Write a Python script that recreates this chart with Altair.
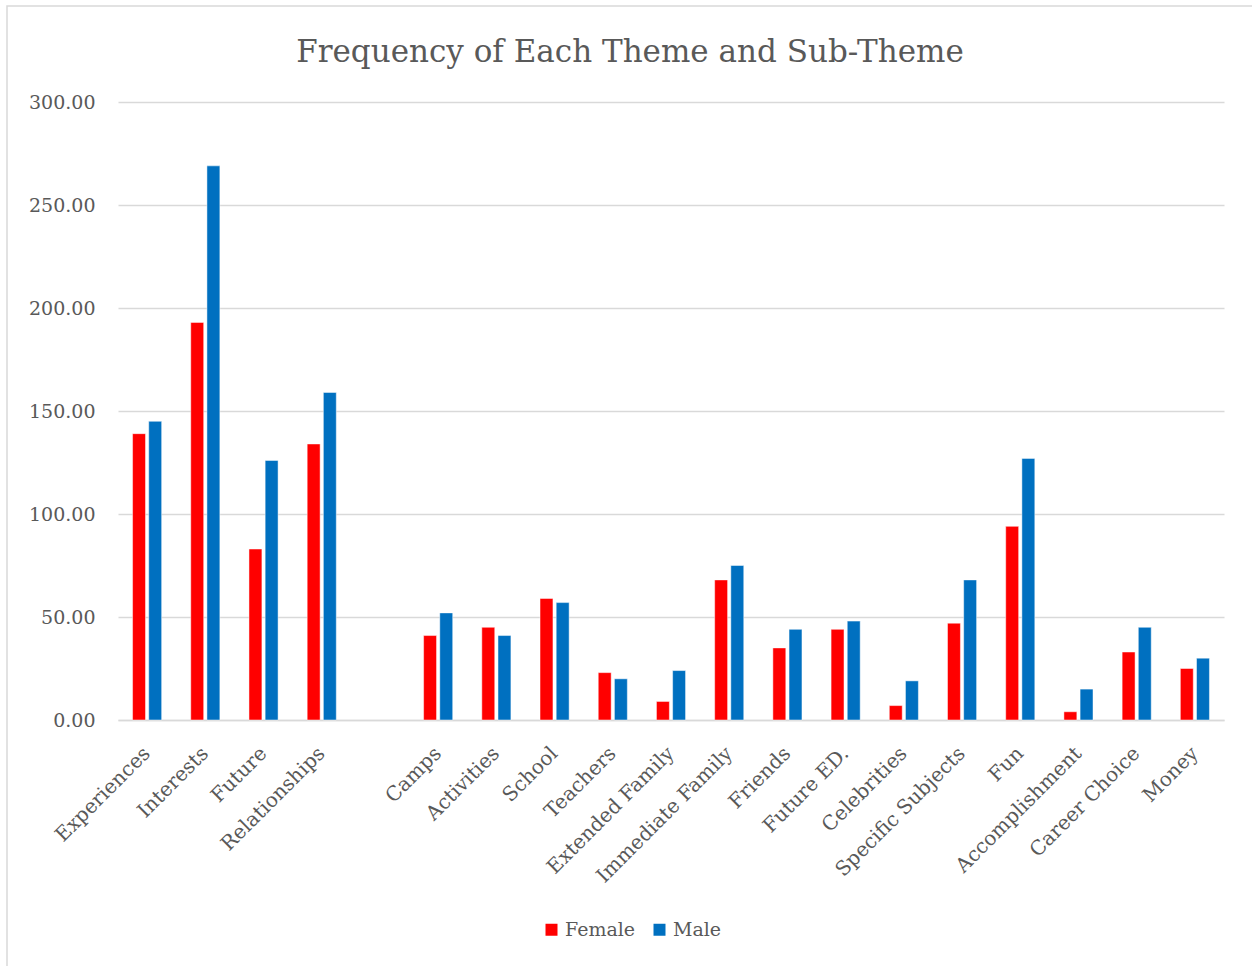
import altair as alt
import pandas as pd

categories = ["Experiences", "Interests", "Future", "Relationships", " ",
              "Camps", "Activities", "School", "Teachers", "Extended Family",
              "Immediate Family", "Friends", "Future ED.", "Celebrities",
              "Specific Subjects", "Fun", "Accomplishment", "Career Choice", "Money"]
female = [139, 193, 83, 134, None, 41, 45, 59, 23, 9, 68, 35, 44, 7, 47, 94, 4, 33, 25]
male = [145, 269, 126, 159, None, 52, 41, 57, 20, 24, 75, 44, 48, 19, 68, 127, 15, 45, 30]
series = ["Female", "Male"]
colors = ["#ff0000", "#0070c0"]
y_ticks = [0, 50, 100, 150, 200, 250, 300]
title_text = "Frequency of Each Theme and Sub-Theme"

rows = []
for c, f, m in zip(categories, female, male):
    if f is not None:
        rows.append({"cat": c, "Gender": "Female", "value": f})
    if m is not None:
        rows.append({"cat": c, "Gender": "Male", "value": m})
df = pd.DataFrame(rows)

FONT = "DejaVu Serif"
GREY = "#595959"

bars = alt.Chart(df).mark_bar(stroke="#ffffff", strokeWidth=0.8, strokeOpacity=0.6).encode(
    x=alt.X("cat:N", scale=alt.Scale(domain=categories, paddingInner=0.5, paddingOuter=0.25),
            axis=alt.Axis(title=None, labelAngle=-45, labelAlign="right", labelBaseline="middle",
                          labelPadding=30, ticks=False, domainColor="#d9d9d9", domainWidth=1.5,
                          labelFontSize=20, labelColor=GREY, labelFont=FONT, grid=False,
                          labelLimit=400, labelOverlap=False)),
    xOffset=alt.XOffset("Gender:N", scale=alt.Scale(domain=series, paddingInner=0.2)),
    y=alt.Y("value:Q", scale=alt.Scale(domain=[0, 300], nice=False),
            axis=alt.Axis(title=None, values=y_ticks, format=".2f", ticks=False, domain=False,
                          gridColor="#d9d9d9", gridWidth=1.5, labelFontSize=19,
                          labelColor=GREY, labelFont=FONT, labelPadding=23)),
    color=alt.Color("Gender:N", scale=alt.Scale(domain=series, range=colors),
                    legend=alt.Legend(title=None, orient="none", legendX=424, legendY=818,
                                      direction="horizontal", symbolType="square",
                                      symbolSize=144, symbolStrokeWidth=0,
                                      labelFontSize=19, labelFont=FONT, labelColor=GREY,
                                      columnPadding=14, labelOffset=4)),
)

border = alt.Chart(alt.Data(values=[{}])).mark_rect(
    fill=None, stroke="#d9d9d9", strokeWidth=1.5
).encode(x=alt.value(-111), x2=alt.value(1200), y=alt.value(-96), y2=alt.value(900))

title = alt.Chart(alt.Data(values=[{"t": title_text}])).mark_text(
    font=FONT, fontSize=31, color=GREY, align="center", baseline="alphabetic"
).encode(text="t:N", x=alt.value(512), y=alt.value(-40))

chart = alt.layer(border, bars, title).properties(
    width=1106, height=618,
    padding={"left": 118, "top": 102, "right": 28, "bottom": 246},
    autosize=alt.AutoSizeParams(type="none"),
).configure(background="white").configure_view(strokeWidth=0, stroke=None)

chart.save("out.html", embed_options={"renderer": "svg", "actions": False})
